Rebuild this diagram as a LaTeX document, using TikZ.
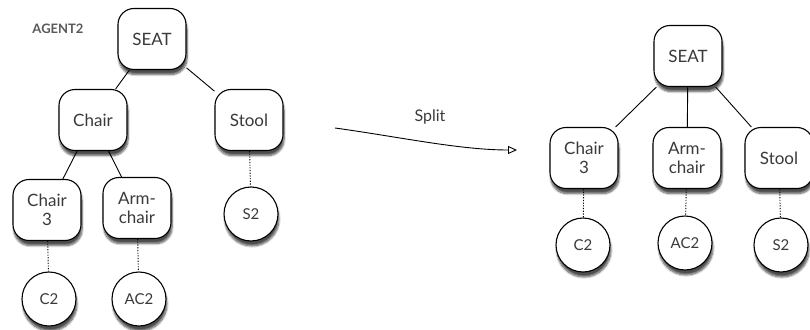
\documentclass[tikz,border=0pt]{standalone}
\usepackage{fontspec}
\setmainfont{Lato}
\usetikzlibrary{arrows.meta,shadows.blur}

\definecolor{inkA}{HTML}{3A3A3A}

\begin{document}
\begin{tikzpicture}[
    x=1pt, y=-1pt,
    box/.style={draw, line width=1.1pt, fill=white, rounded corners=16pt, align=center,
        minimum width=68pt, minimum height=61pt, inner sep=2pt,
        font=\fontsize{17}{19}\selectfont, text=inkA,
        blur shadow={shadow xshift=1pt, shadow yshift=-5pt, shadow blur steps=8, shadow opacity=70}},
    leaf/.style={draw, line width=1.1pt, circle, fill=white, minimum size=54pt, inner sep=0pt,
        font=\fontsize{15}{17}\selectfont, text=inkA,
        blur shadow={shadow xshift=1pt, shadow yshift=-5pt, shadow blur steps=8, shadow opacity=70}},
    edge/.style={draw, line width=0.9pt},
    link/.style={draw, line width=0.9pt, dash pattern=on 1.2pt off 1.5pt},
]
\useasboundingbox (0,0) rectangle (810,329);

% Left tree (AGENT2)
\node[font=\bfseries\fontsize{13}{15}\selectfont, text=black!65] (agent) at (58,29) {AGENT2};
\node[box] (seatL)  at (152,39)  {SEAT};
\node[box] (chairL) at (93,120)  {Chair};
\node[box] (stoolL) at (249,120) {Stool};
\node[box] (ch3L)   at (47,210)  {Chair\\3};
\node[box] (armL)   at (137,208) {Arm-\\chair};
\node[leaf] (s2L)   at (251,214) {S2};
\node[leaf] (c2L)   at (49,299)  {C2};
\node[leaf] (ac2L)  at (139,299) {AC2};

\draw[edge] (seatL) -- (chairL);
\draw[edge] (seatL) -- (stoolL);
\draw[edge] (chairL) -- (ch3L);
\draw[edge] (chairL) -- (armL);
\draw[link] (ch3L) -- (c2L);
\draw[link] (armL) -- (ac2L);
\draw[link] (stoolL) -- (s2L);

% Split arrow
\coordinate (splitA) at (335,128);
\coordinate (splitB) at (517,150);
\draw[line width=0.9pt, -{Triangle[open, length=9pt, width=8pt]}]
    (splitA) .. controls (400,137) and (460,150) .. (splitB);
\node[font=\fontsize{16}{18}\selectfont, text=inkA] (split) at (430,117) {Split};

% Right tree
\node[box] (seatR)  at (688,56)  {SEAT};
\node[box] (ch3R)   at (584,158) {Chair\\3};
\node[box] (armR)   at (687,158) {Arm-\\chair};
\node[box] (stoolR) at (779,158) {Stool};
\node[leaf] (c2R)   at (583,245) {C2};
\node[leaf] (ac2R)  at (685,243) {AC2};
\node[leaf] (s2R)   at (781,245) {S2};

\draw[edge] (seatR) -- (ch3R);
\draw[edge] (seatR) -- (armR);
\draw[edge] (seatR) -- (stoolR);
\draw[link] (ch3R) -- (c2R);
\draw[link] (armR) -- (ac2R);
\draw[link] (stoolR) -- (s2R);

\end{tikzpicture}
\end{document}
